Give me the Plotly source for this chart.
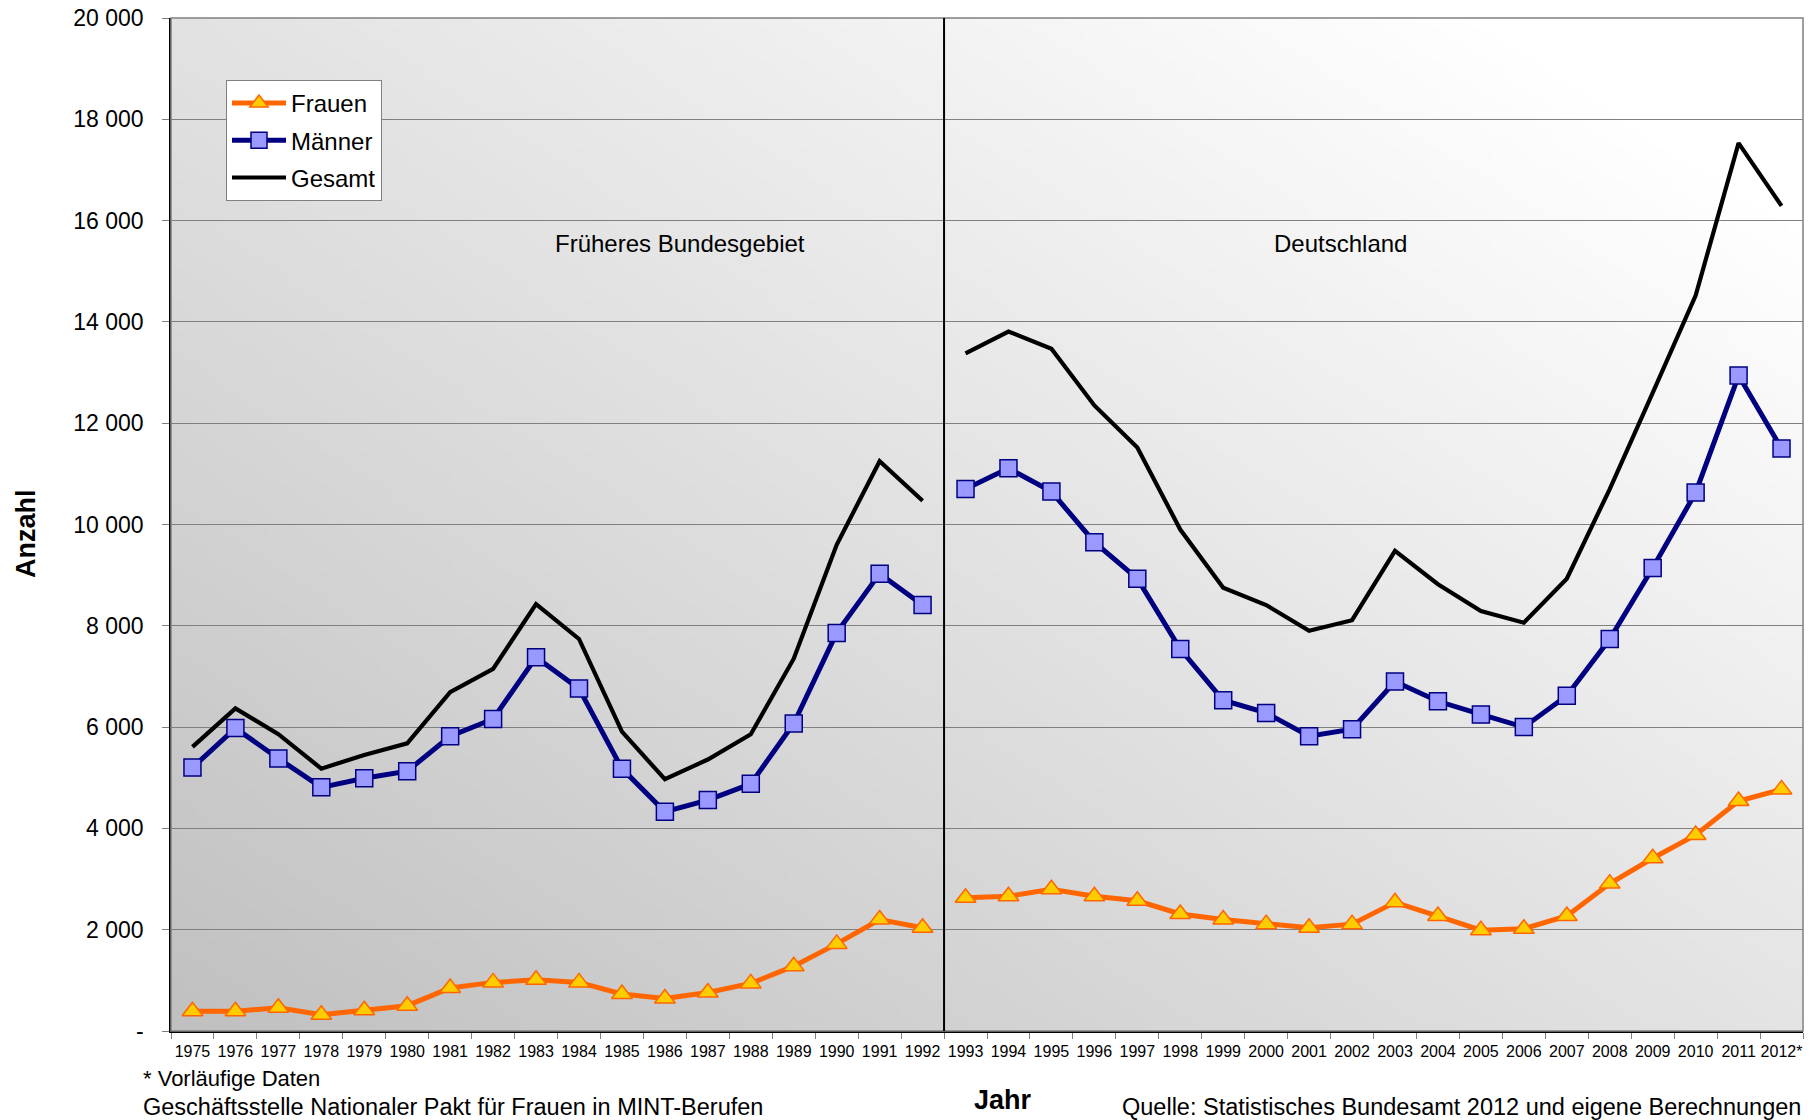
import base64
import struct
import zlib

import plotly.graph_objects as go

# ---------------- data ----------------
years = ["1975", "1976", "1977", "1978", "1979", "1980", "1981", "1982", "1983", "1984",
         "1985", "1986", "1987", "1988", "1989", "1990", "1991", "1992",
         "1993", "1994", "1995", "1996", "1997", "1998", "1999", "2000", "2001", "2002",
         "2003", "2004", "2005", "2006", "2007", "2008", "2009", "2010", "2011", "2012*"]

frauen = [390, 390, 460, 320, 410, 500, 850, 960, 1010, 960,
          730, 640, 760, 940, 1280, 1720, 2200, 2040,
          2630, 2660, 2800, 2660, 2570, 2310, 2200, 2110, 2040, 2110,
          2540, 2270, 1990, 2020, 2270, 2910, 3410, 3870, 4540, 4770]

maenner = [5200, 5980, 5380, 4810, 4990, 5130, 5820, 6160, 7380, 6760,
           5180, 4330, 4560, 4880, 6070, 7860, 9030, 8410,
           10700, 11110, 10650, 9650, 8930, 7540, 6530, 6280, 5820, 5960,
           6900, 6510, 6250, 6000, 6620, 7740, 9140, 10630, 12940, 11500]

gesamt = [5610, 6370, 5860, 5180, 5450, 5680, 6690, 7150, 8430, 7740,
          5910, 4970, 5360, 5860, 7350, 9600, 11250, 10470,
          13380, 13810, 13470, 12350, 11520, 9900, 8750, 8410, 7900, 8110,
          9480, 8820, 8290, 8060, 8930, 10700, 12600, 14520, 17530, 16290]

split = 18  # first index of "Deutschland"

ytick_vals = [0, 2000, 4000, 6000, 8000, 10000, 12000, 14000, 16000, 18000, 20000]
ytick_text = ["-", "2 000", "4 000", "6 000", "8 000", "10 000", "12 000",
              "14 000", "16 000", "18 000", "20 000"]

FONT = "Liberation Sans, Arial, sans-serif"

# ---------------- background gradient image ----------------
def gradient_png(w=160, h=160):
    rows = []
    for j in range(h):
        top = 1 - j / (h - 1)
        row = bytearray([0])
        for i in range(w):
            right = i / (w - 1)
            v = 192 + 34 * top + 36 * right
            v = max(0, min(255, int(round(v))))
            row.append(v)
        rows.append(bytes(row))
    raw = b"".join(rows)

    def chunk(tag, data):
        c = struct.pack(">I", len(data)) + tag + data
        return c + struct.pack(">I", zlib.crc32(tag + data) & 0xFFFFFFFF)

    png = b"\x89PNG\r\n\x1a\n"
    png += chunk(b"IHDR", struct.pack(">IIBBBBB", w, h, 8, 0, 0, 0, 0))
    png += chunk(b"IDAT", zlib.compress(raw, 9))
    png += chunk(b"IEND", b"")
    return "data:image/png;base64," + base64.b64encode(png).decode()


fig = go.Figure()

series = [
    ("Frauen", frauen, dict(color="#FF6600", width=5),
     dict(symbol="triangle-up", size=18, color="#FFCC00", line=dict(color="#FF6600", width=1.5)), "lines+markers"),
    ("Männer", maenner, dict(color="#000080", width=5),
     dict(symbol="square", size=17, color="#9999FF", line=dict(color="#000080", width=1.5)), "lines+markers"),
    ("Gesamt", gesamt, dict(color="#000000", width=4.2), None, "lines"),
]

for name, vals, line, marker, mode in series:
    for k, (a, b) in enumerate([(0, split), (split, len(years))]):
        kw = dict(marker=marker) if marker else {}
        fig.add_trace(go.Scatter(
            x=years[a:b], y=vals[a:b], name=name, mode=mode, line=line,
            legendgroup=name, showlegend=(k == 0), **kw))

fig.add_layout_image(dict(
    source=gradient_png(), xref="paper", yref="paper", x=0, y=1, sizex=1, sizey=1,
    xanchor="left", yanchor="top", sizing="stretch", layer="below"))

# plot border and divider
fig.add_shape(type="rect", xref="paper", yref="paper", x0=0, x1=1, y0=0, y1=1,
              line=dict(color="#808080", width=1.5))
fig.add_shape(type="line", xref="x", yref="paper", x0=split - 0.5, x1=split - 0.5, y0=0, y1=1,
              line=dict(color="#000000", width=2))

W, H = 1816, 1120
L, R, T, B = 171, 13, 18, 89
pw, ph = W - L - R, H - T - B


def px(xp):
    return (xp - L) / pw


def py(yp):
    return (H - B - yp) / ph


annos = [
    dict(text="Früheres Bundesgebiet", x=px(680), y=py(243), font=dict(size=24)),
    dict(text="Deutschland", x=px(1340), y=py(243), font=dict(size=24)),
    dict(text="<b>Anzahl</b>", x=px(26), y=py(534), textangle=-90, font=dict(size=27)),
    dict(text="<b>Jahr</b>", x=px(1003), y=py(1100), font=dict(size=27)),
    dict(text="* Vorläufige Daten", x=px(141), y=py(1078), xanchor="left", font=dict(size=22)),
    dict(text="Geschäftsstelle Nationaler Pakt für Frauen in MINT-Berufen", x=px(141), y=py(1107),
         xanchor="left", font=dict(size=23.5)),
    dict(text="Quelle: Statistisches Bundesamt 2012 und eigene Berechnungen", x=px(1803), y=py(1107),
         xanchor="right", font=dict(size=23.5)),
]
for a in annos:
    a.setdefault("xanchor", "center")
    a.update(xref="paper", yref="paper", yanchor="middle", showarrow=False)
    a["font"] = dict(family=FONT, color="#000000", **a["font"])
    fig.add_annotation(**a)

fig.update_layout(
    width=W, height=H,
    margin=dict(l=L, r=R, t=T, b=B, pad=0, autoexpand=False),
    paper_bgcolor="#FFFFFF",
    plot_bgcolor="rgba(0,0,0,0)",
    font=dict(family=FONT, color="#000000"),
    showlegend=True,
    legend=dict(
        x=px(226), y=py(80), xanchor="left", yanchor="top",
        bgcolor="#FFFFFF", bordercolor="#808080", borderwidth=1,
        font=dict(family=FONT, size=24, color="#000000"),
        traceorder="grouped", tracegroupgap=3, itemwidth=54,
    ),
    xaxis=dict(
        type="category", categoryorder="array", categoryarray=years,
        range=[-0.5, len(years) - 0.5], automargin=False,
        tickson="boundaries", ticks="outside", ticklen=6, tickcolor="#808080", tickwidth=1,
        showline=True, linecolor="#000000", linewidth=1.5,
        showgrid=False, tickfont=dict(family=FONT, size=16, color="#000000"),
        tickangle=0, ticklabelstandoff=5,
    ),
    yaxis=dict(
        range=[0, 20000], tickvals=ytick_vals, ticktext=ytick_text, automargin=False,
        ticks="outside", ticklen=7, tickcolor="#808080",
        showline=True, linecolor="#000000", linewidth=1.5,
        showgrid=True, gridcolor="#808080", gridwidth=1, zeroline=False,
        tickfont=dict(family=FONT, size=23, color="#000000"),
        ticklabelstandoff=14,
    ),
)

fig.write_html(
    "out.html",
    config={"displayModeBar": False},
    post_script="document.body.style.margin='0';document.body.style.overflow='hidden';",
)
